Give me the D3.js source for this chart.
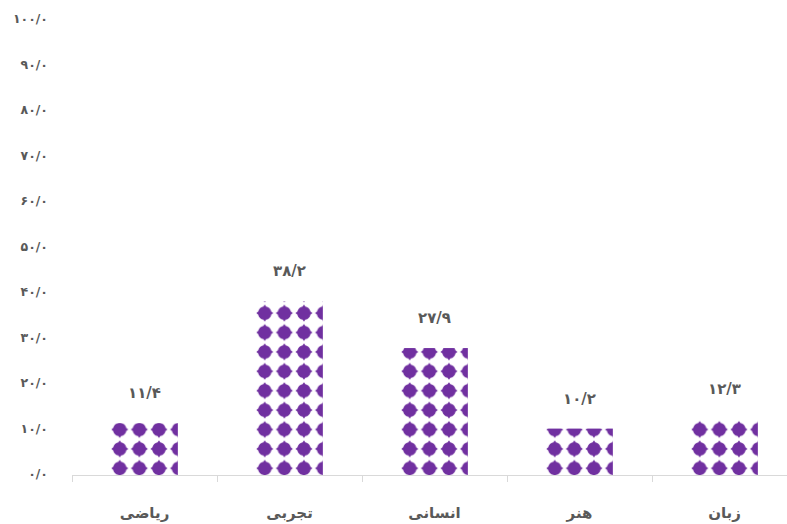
<!DOCTYPE html>
<html>
<head>
<meta charset="utf-8">
<script src="https://cdn.jsdelivr.net/npm/d3@7"></script>
<style>
  html, body { margin: 0; padding: 0; background: #ffffff; }
  svg { display: block; }
  text { font-family: "DejaVu Sans", sans-serif; font-weight: bold; fill: #595959; }
</style>
</head>
<body>
<svg id="chart" width="787" height="524"></svg>
<script>
// ---- data ----
const categories = ["ریاضی", "تجربی", "انسانی", "هنر", "زبان"];
const values = [11.4, 38.2, 27.9, 10.2, 12.3];
const yTicks = [0, 10, 20, 30, 40, 50, 60, 70, 80, 90, 100];

// ---- helpers ----
const faDigits = "۰۱۲۳۴۵۶۷۸۹";
function toFa(v) {
  return v.toFixed(1).replace(".", "/").replace(/[0-9]/g, d => faDigits[+d]);
}

const svg = d3.select("#chart");
const W = 787, H = 524;
const plot = { left: 72, right: 797, top: 20, bottom: 475 };

const x = d3.scaleBand()
  .domain(categories)
  .range([plot.left, plot.right])
  .paddingInner(0.54)
  .paddingOuter(0.27);

const y = d3.scaleLinear()
  .domain([0, 100])
  .range([plot.bottom, plot.top]);

// ---- patterns (one per bar so the tile aligns with each bar) ----
const tileW = 19.6, tileH = 19.4;
const defs = svg.append("defs");
const R = 8.5, a = 1.4, b = 6.6, k = 5.6;
function diamondPath(cx, cy) {
  // build one quadrant and rotate it four times
  const quad = [[0, -R], [a, -b], [k, -k], [b, -a], [R, 0]];
  let d = "";
  for (let q = 0; q < 4; q++) {
    const rot = ([px, py]) => {
      let X = px, Y = py;
      for (let r = 0; r < q; r++) { const t = X; X = -Y; Y = t; }
      return [cx + X, cy + Y];
    };
    const p = quad.map(rot);
    if (q === 0) d += `M${p[0][0]},${p[0][1]}`;
    d += ` L${p[1][0]},${p[1][1]} Q${p[2][0]},${p[2][1]} ${p[3][0]},${p[3][1]} L${p[4][0]},${p[4][1]}`;
  }
  return d + " Z";
}
categories.forEach((cat, i) => {
  const p = defs.append("pattern")
    .attr("id", "pat" + i)
    .attr("patternUnits", "userSpaceOnUse")
    .attr("x", x(cat) - 1.2)
    .attr("y", plot.bottom - 6.7 - tileH / 2)
    .attr("width", tileW)
    .attr("height", tileH);
  p.append("rect").attr("width", tileW).attr("height", tileH).attr("fill", "#ffffff");
  p.append("path").attr("d", diamondPath(tileW / 2, tileH / 2)).attr("fill", "#7030A0");
});

// ---- bars ----
svg.append("g")
  .selectAll("rect")
  .data(values)
  .join("rect")
  .attr("x", (d, i) => x(categories[i]))
  .attr("y", d => y(d))
  .attr("width", x.bandwidth())
  .attr("height", d => plot.bottom - y(d))
  .attr("fill", (d, i) => `url(#pat${i})`);

// ---- value labels ----
svg.append("g")
  .selectAll("text")
  .data(values)
  .join("text")
  .attr("x", (d, i) => x(categories[i]) + x.bandwidth() / 2)
  .attr("y", d => y(d) - 30)
  .attr("text-anchor", "middle")
  .attr("dominant-baseline", "central")
  .attr("direction", "ltr")
  .style("font-size", "15px")
  .text(d => toFa(d));

// ---- y axis (labels only) ----
const yAxis = d3.axisLeft(y)
  .tickValues(yTicks)
  .tickSize(0)
  .tickPadding(0)
  .tickFormat(d => toFa(d));
const gy = svg.append("g")
  .attr("transform", `translate(48,0)`)
  .call(yAxis);
gy.select(".domain").remove();
gy.selectAll("text")
  .attr("fill", "#595959")
  .attr("dy", "0.22em")
  .style("font-size", "12.5px")
  .style("font-family", "\"DejaVu Sans\", sans-serif")
  .style("font-weight", "bold")
  .attr("direction", "ltr");

// ---- x axis ----
const xTickPos = categories.map(cat => x(cat) - x.step() * x.paddingInner() / 2).concat([plot.right]);
const gx = svg.append("g");
gx.append("line")
  .attr("x1", plot.left).attr("x2", W)
  .attr("y1", plot.bottom + 0.5).attr("y2", plot.bottom + 0.5)
  .attr("stroke", "#d9d9d9").attr("stroke-width", 1);
gx.selectAll("line.tick")
  .data(xTickPos)
  .join("line")
  .attr("class", "tick")
  .attr("x1", d => Math.round(d) + 0.5).attr("x2", d => Math.round(d) + 0.5)
  .attr("y1", plot.bottom).attr("y2", plot.bottom + 7)
  .attr("stroke", "#d9d9d9").attr("stroke-width", 1);
gx.selectAll("text")
  .data(categories)
  .join("text")
  .attr("x", d => x(d) + x.bandwidth() / 2)
  .attr("y", 513)
  .attr("text-anchor", "middle")
  .attr("dominant-baseline", "central")
  .style("font-size", "15px")
  .text(d => d);
</script>
</body>
</html>
